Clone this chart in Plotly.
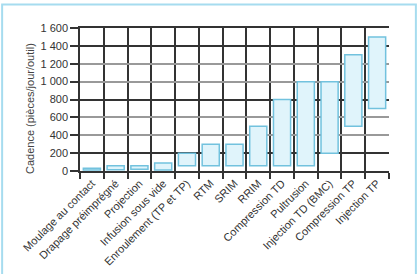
import plotly.graph_objects as go

categories = ["Moulage au contact", "Drapage préimprégné", "Projection", "Infusion sous vide",
              "Enroulement (TP et TP)", "RTM", "SRIM", "RRIM", "Compression TD", "Pultrusion",
              "Injection TD (BMC)", "Compression TP", "Injection TP"]
low_values = [10, 15, 20, 10, 60, 60, 60, 60, 60, 60, 200, 500, 700]
high_values = [30, 60, 60, 90, 200, 300, 300, 500, 800, 1000, 1000, 1300, 1500]
y_tick_vals = [0, 200, 400, 600, 800, 1000, 1200, 1400, 1600]
y_tick_text = ["0", "200", "400", "600", "800", "1 000", "1 200", "1 400", "1 600"]

FONT = "Liberation Sans, Arial, sans-serif"

fig = go.Figure()
fig.add_trace(go.Bar(
    x=categories,
    y=[h - l for h, l in zip(high_values, low_values)],
    base=low_values,
    width=0.72,
    marker=dict(color="#e0f4fb", line=dict(color="#72c2de", width=1.5)),
    hoverinfo="skip",
))
# helper trace for darker gridlines on second axis
fig.add_trace(go.Scatter(x=[categories[0]], y=[0], yaxis="y2", mode="markers",
                         marker=dict(opacity=0), hoverinfo="skip", showlegend=False))

fig.update_layout(
    width=419, height=280,
    margin=dict(l=80, r=30, t=28, b=106),
    paper_bgcolor="white", plot_bgcolor="white",
    showlegend=False,
    font=dict(family=FONT, size=11, color="#333"),
    xaxis=dict(
        type="category", range=[-0.5, 12.5],
        tickson="boundaries", ticks="outside", ticklen=6, tickcolor="#333", tickwidth=1.5,
        showgrid=True, gridcolor="#333", gridwidth=1.5,
        tickangle=-45, tickfont=dict(size=11, color="#333"),
        showline=True, linecolor="#333", linewidth=1.5, mirror=True,
    ),
    yaxis=dict(
        range=[0, 1600], tickvals=y_tick_vals, ticktext=y_tick_text,
        ticks="outside", ticklen=8, tickcolor="#333", tickwidth=1.5,
        showgrid=True, gridcolor="#999", gridwidth=1.5,
        showline=True, linecolor="#333", linewidth=1.5,
        zeroline=False, tickfont=dict(size=11, color="#333"),
    ),
    yaxis2=dict(
        overlaying="y", range=[0, 1600], tick0=200, dtick=600,
        showgrid=True, gridcolor="#333", gridwidth=1.5,
        showticklabels=False, ticks="", zeroline=False, showline=False,
    ),
    bargap=0.28,
    annotations=[dict(
        text="Cadence (pièces/jour/outil)", textangle=-90,
        xref="paper", yref="paper", x=-0.162, y=0.44,
        xanchor="center", yanchor="middle", showarrow=False,
        font=dict(size=11, color="#444", family=FONT),
    )],
    shapes=[dict(
        type="path", xref="paper", yref="paper",
        path="M -0.252,-0.72 L -0.252,1.164 L 1.087,1.164 L 1.087,-0.72",
        line=dict(color="#a6dcef", width=2),
    )],
)

fig.write_html("out.html")
